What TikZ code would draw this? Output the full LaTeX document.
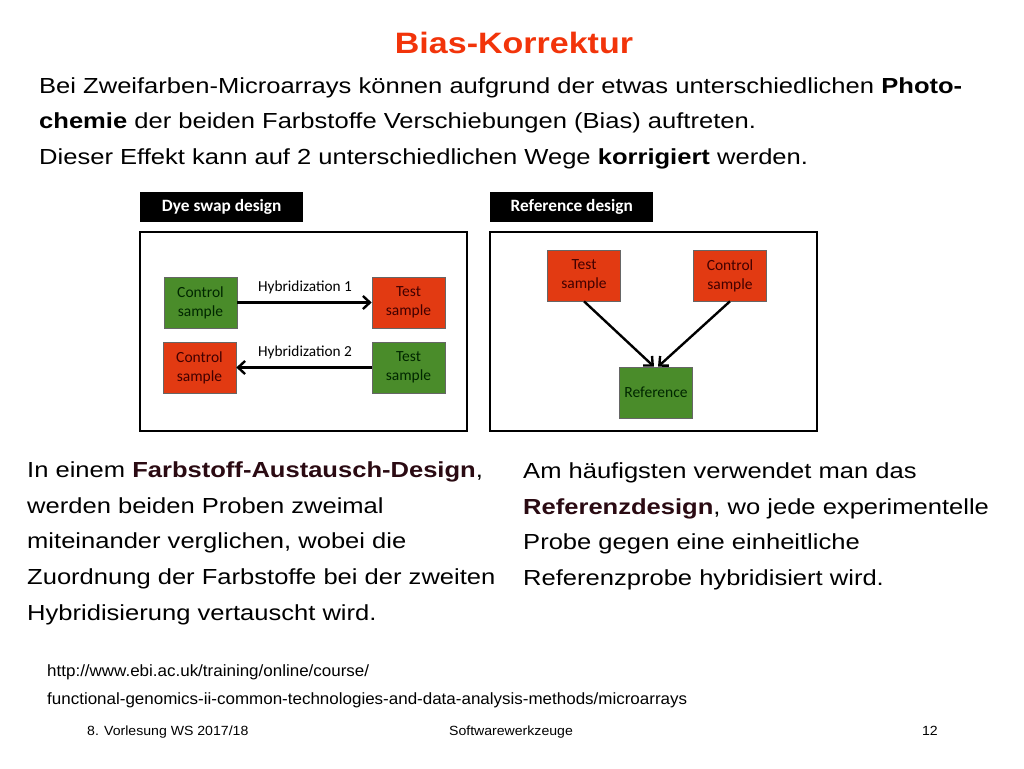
\documentclass[tikz,border=0pt]{standalone}
\usepackage{fontspec}
\setmainfont{Liberation Sans}
\newfontfamily\bodyfont[FakeStretch=1.172]{Liberation Sans}
\newfontfamily\titlefont[FakeStretch=1.153]{Liberation Sans}
\newfontfamily\urlfont[FakeStretch=1.042]{Liberation Sans}
\newfontfamily\footfont[FakeStretch=1.06]{Liberation Sans}
\newfontfamily\carlitofont{Carlito}
\usetikzlibrary{arrows.meta}
\definecolor{titlered}{HTML}{F2340A}
\definecolor{boxgreen}{HTML}{4A8C2A}
\definecolor{boxred}{HTML}{E23A12}
\definecolor{darkmaroon}{HTML}{2A0A12}
\tikzset{
  body/.style={anchor=base west, inner sep=0pt, font=\bodyfont\fontsize{21.8}{26}\selectfont},
  small/.style={anchor=base west, inner sep=0pt, font=\urlfont\fontsize{16.3}{19}\selectfont},
  foot/.style={inner sep=0pt, font=\footfont\fontsize{13.3}{16}\selectfont},
  tag/.style={fill=black, text=white, anchor=north west, inner sep=0pt, minimum width=163pt, minimum height=30pt, font=\carlitofont\bfseries\fontsize{17.3}{20}\selectfont},
  frame/.style={draw=black, line width=2.2pt},
  sbox/.style={draw=black!60, line width=0.6pt, minimum width=73pt, minimum height=51pt, align=center, inner sep=0pt, font=\carlitofont\fontsize{15.5}{19}\selectfont},
  sgreen/.style={sbox, fill=boxgreen, text=black!85!green},
  sred/.style={sbox, fill=boxred, text=black!75!red},
  arr/.style={-{Straight Barb[length=7pt,width=13pt,line width=2.4pt]}, line width=2.4pt},
  hyb/.style={inner sep=0pt, font=\carlitofont\fontsize{15.3}{18}\selectfont},
}
\begin{document}
\begin{tikzpicture}[x=1pt,y=-1pt]
\useasboundingbox (0,0) rectangle (1024,768);
\node[font=\titlefont\bfseries\fontsize{29.5}{34}\selectfont, text=titlered, inner sep=0pt, anchor=base] (title) at (514,53) {Bias-Korrektur};
\node[body] (l1) at (39,93) {Bei Zweifarben-Microarrays können aufgrund der etwas unterschiedlichen \textbf{Photo-}};
\node[body] (l2) at (39,128.5) {\textbf{chemie} der beiden Farbstoffe Verschiebungen (Bias) auftreten.};
\node[body] (l3) at (39,164) {Dieser Effekt kann auf 2 unterschiedlichen Wege \textbf{korrigiert} werden.};
% Dye swap
\node[tag] (t1) at (140,192) {Dye swap design};
\draw[frame] (140,232) rectangle (467,431);
\node[sgreen] (c1) at (200.5,302.5) {Control\\sample};
\node[sred] (s1) at (408.5,302.5) {Test\\sample};
\node[sred] (c2) at (199.5,367.5) {Control\\sample};
\node[sgreen] (s2) at (408.5,367.5) {Test\\sample};
\draw[arr] (c1) -- (s1);
\draw[arr] (s2) -- (c2);
\node[hyb] (h1) at (305,287) {Hybridization 1};
\node[hyb] (h2) at (305,352) {Hybridization 2};
% Reference
\node[tag] (t2) at (490,192) {Reference design};
\draw[frame] (490,232) rectangle (817,431);
\node[sred] (ts) at (584,275.5) {Test\\sample};
\node[sred] (cs) at (730,275.5) {Control\\sample};
\node[sgreen] (rf) at (656,392.5) {Reference};
\draw[arr] (ts.south) -- ([xshift=-2pt]rf.north);
\draw[arr] (cs.south) -- ([xshift=2pt]rf.north);
% bottom text
\node[body] (b1) at (27,477.5) {In einem \textcolor{darkmaroon}{\textbf{Farbstoff-Austausch-Design}},};
\node[body] (b2) at (27,513) {werden beiden Proben zweimal};
\node[body] (b3) at (27,548.5) {miteinander verglichen, wobei die};
\node[body] (b4) at (27,584.5) {Zuordnung der Farbstoffe bei der zweiten};
\node[body] (b5) at (27,620) {Hybridisierung vertauscht wird.};
\node[body] (r1) at (523,478.5) {Am häufigsten verwendet man das};
\node[body] (r2) at (523,514) {\textcolor{darkmaroon}{\textbf{Referenzdesign}}, wo jede experimentelle};
\node[body] (r3) at (523,549.5) {Probe gegen eine einheitliche};
\node[body] (r4) at (523,585) {Referenzprobe hybridisiert wird.};
\node[small] (u1) at (47,676) {http://www.ebi.ac.uk/training/online/course/};
\node[small] (u2) at (47,704) {functional-genomics-ii-common-technologies-and-data-analysis-methods/microarrays};
\node[foot, anchor=base west] (f1) at (87,735) {8. Vorlesung WS 2017/18};
\node[foot, anchor=base] (f2) at (511,735) {Softwarewerkzeuge};
\node[foot, anchor=base east] (f3) at (938,735) {12};
\end{tikzpicture}
\end{document}
